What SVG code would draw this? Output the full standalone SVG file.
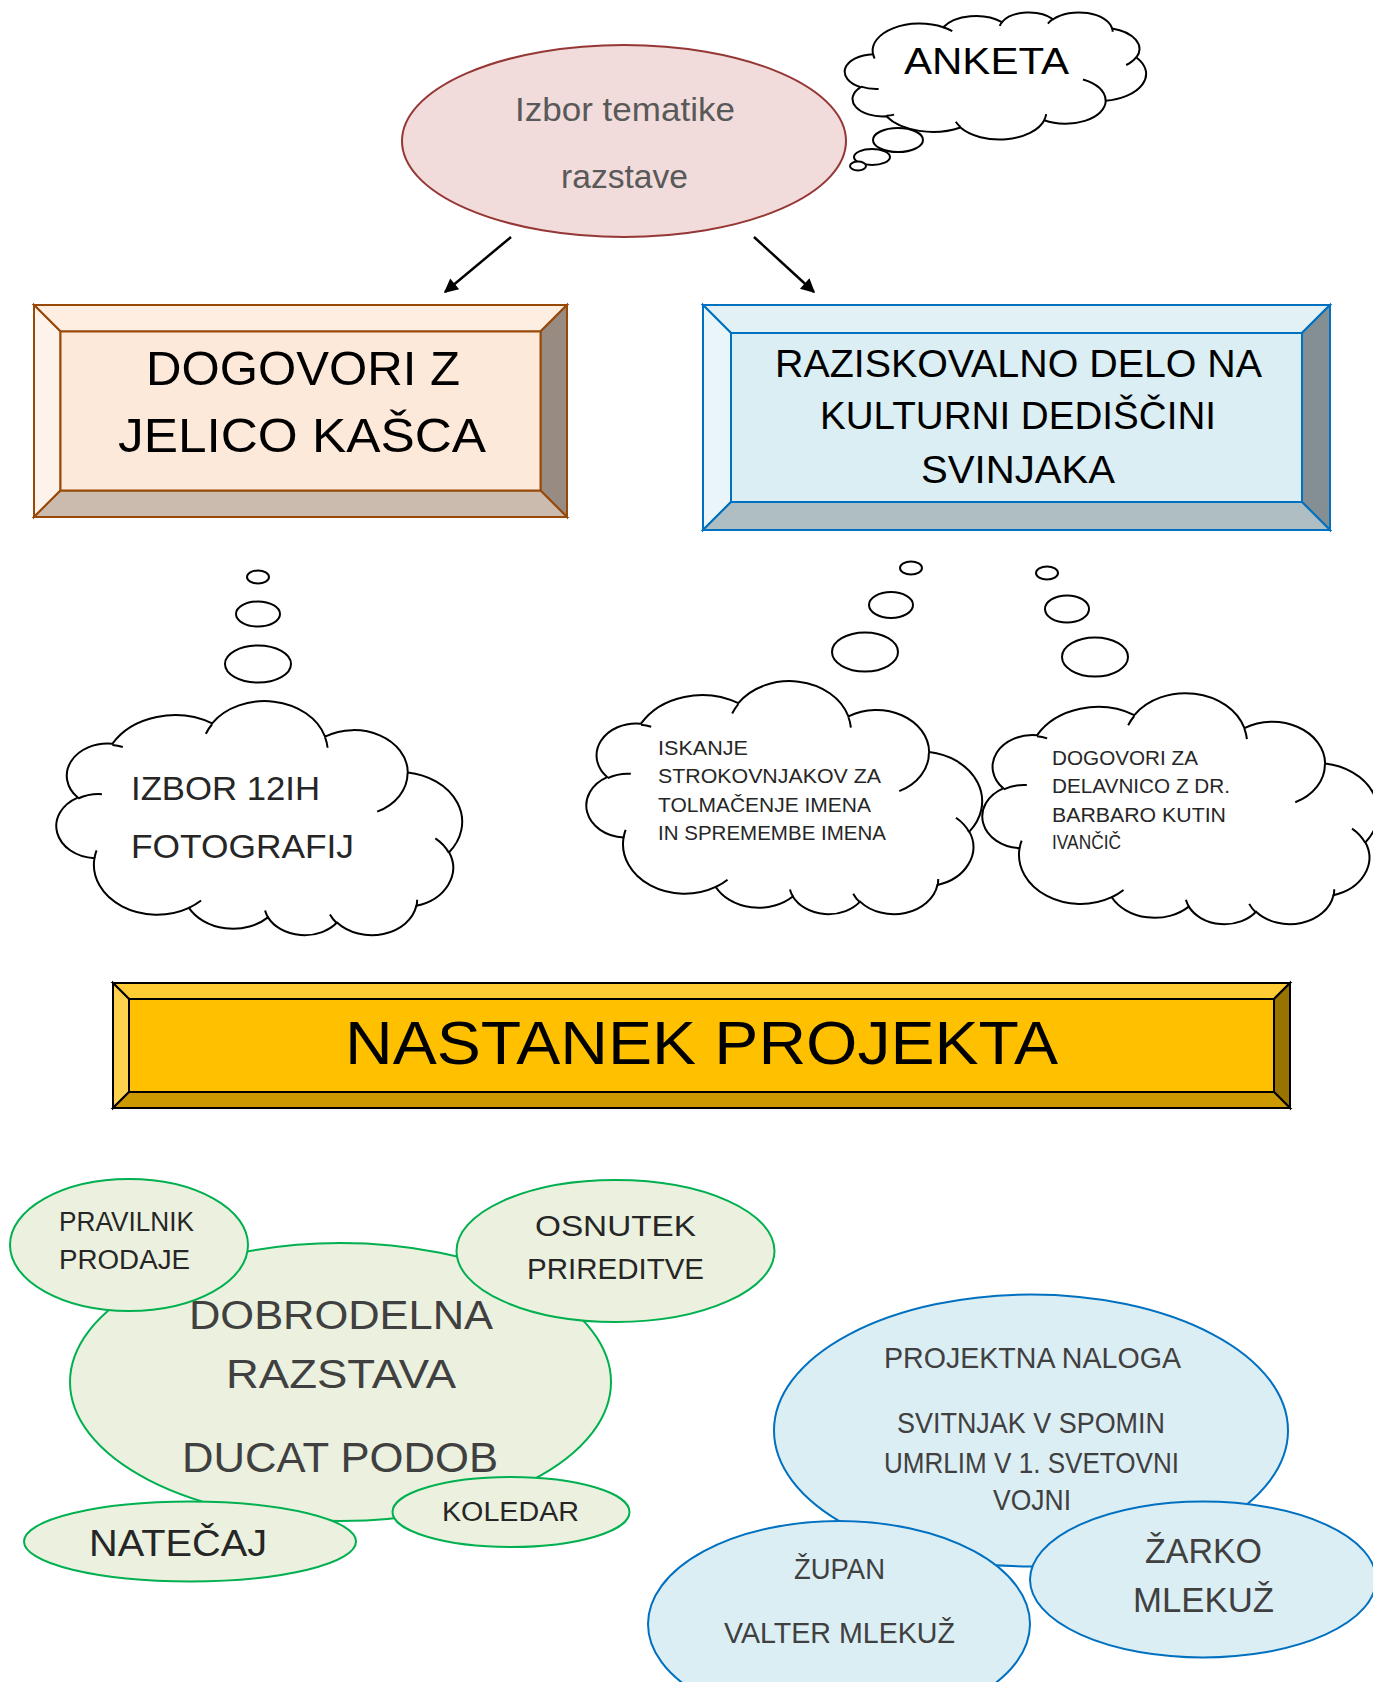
<svg xmlns="http://www.w3.org/2000/svg" xmlns:xlink="http://www.w3.org/1999/xlink" width="1373" height="1682" viewBox="0 0 1373 1682">
<style>
text { font-family: "Liberation Sans", Arial, sans-serif; }
.cloud { fill: #ffffff; stroke: #000000; stroke-width: 2; }
.cin { fill: none; stroke: #000000; stroke-width: 2; }
.bub { fill: #ffffff; stroke: #000000; stroke-width: 2; }
.green { fill: #EBF1DE; stroke: #00B050; stroke-width: 2; }
.blue { fill: #DBEEF4; stroke: #0070C0; stroke-width: 2; }
.conn { stroke: #000000; stroke-width: 2.5; fill: none; marker-end: url(#ah); }
.t-dark { fill: #262626; }
.t-gray { fill: #404040; }
.t-blk { fill: #000000; }
</style>
<defs>
<marker id="ah" viewBox="0 0 10 10" refX="9" refY="5" markerWidth="17" markerHeight="14" markerUnits="userSpaceOnUse" orient="auto">
<path d="M0,0 L10,5 L0,10 z" fill="#000"/>
</marker>
<path id="cloudBody" vector-effect="non-scaling-stroke" d="M3900,14370 A6753,9190 0 0 1 14005,5202 A5333,7267 0 0 1 22456,3433 A4365,5945 0 0 1 29833,2481 A4857,6595 0 0 1 38318,5576 A5333,7273 0 0 1 41818,15460 A6775,9220 0 0 1 37404,30203 A5785,7867 0 0 1 28556,36813 A6752,9215 0 0 1 16481,39267 A7720,10543 0 0 1 5807,35473 A4360,5918 0 0 1 2116,25551 A4345,5945 0 0 1 3900,14370 Z"/>
<path id="cloudInner" vector-effect="non-scaling-stroke" d="M4693,26177 A4345,5945 0 0 1 2160,25380 M6928,34899 A4360,5918 0 0 1 5820,35281 M16478,39090 A6752,9215 0 0 1 15809,37347 M28827,34751 A6752,9215 0 0 1 28560,36660 M34129,22954 A5785,7867 0 0 1 37381,30090 M41798,15354 A5333,7273 0 0 1 40350,18030 M38324,5426 A4857,6595 0 0 1 38400,6690 M29078,3952 A4857,6595 0 0 1 29820,2340 M22141,4720 A4365,5945 0 0 1 22500,3331 M14000,5192 A6753,9190 0 0 1 15301,6541 M4127,15789 A6753,9190 0 0 1 3900,14370"/>
</defs>
<rect x="0" y="0" width="1373" height="1682" fill="#ffffff"/>

<g id="izbor-tematike">
<ellipse cx="624" cy="141" rx="222" ry="96" fill="#F2DCDB" stroke="#953735" stroke-width="2"/>
<text x="515" y="121" font-size="34" textLength="220" lengthAdjust="spacingAndGlyphs" fill="#595959">Izbor tematike</text>
<text x="561" y="188" font-size="34" textLength="127" lengthAdjust="spacingAndGlyphs" fill="#595959">razstave</text>
</g>

<g id="anketa">
<g transform="translate(846,12) scale(0.006944,0.00294)">
<use xlink:href="#cloudBody" class="cloud"/>
<use xlink:href="#cloudInner" class="cin"/>
</g>
<ellipse class="bub" cx="898" cy="140" rx="25" ry="12"/>
<ellipse class="bub" cx="872" cy="157" rx="18" ry="8"/>
<ellipse class="bub" cx="858" cy="166" rx="8" ry="4.5"/>
<text x="904" y="74" font-size="36" textLength="165" lengthAdjust="spacingAndGlyphs" class="t-blk">ANKETA</text>
</g>

<g id="dogovori-z-jelico">
<polygon points="34,305 567,305 540.5,331.5 60.5,331.5" fill="#FEEDE1" stroke="#984807" stroke-width="2"/>
<polygon points="34,305 60.5,331.5 60.5,490.5 34,517" fill="#FEF3EB" stroke="#984807" stroke-width="2"/>
<polygon points="567,305 567,517 540.5,490.5 540.5,331.5" fill="#988B82" stroke="#984807" stroke-width="2"/>
<polygon points="34,517 60.5,490.5 540.5,490.5 567,517" fill="#CBBAAE" stroke="#984807" stroke-width="2"/>
<rect x="60.5" y="331.5" width="480" height="159" fill="#FDE9D9" stroke="#984807" stroke-width="2"/>
<text x="146" y="385" font-size="49" textLength="314" lengthAdjust="spacingAndGlyphs" class="t-blk">DOGOVORI Z</text>
<text x="118" y="452" font-size="49" textLength="368" lengthAdjust="spacingAndGlyphs" class="t-blk">JELICO KAŠCA</text>
</g>

<g id="raziskovalno-delo">
<polygon points="703,305 1330,305 1302,333 731,333" fill="#E1F1F5" stroke="#0070C0" stroke-width="2"/>
<polygon points="703,305 731,333 731,502 703,530" fill="#E9F5F8" stroke="#0070C0" stroke-width="2"/>
<polygon points="1330,305 1330,530 1302,502 1302,333" fill="#838F92" stroke="#0070C0" stroke-width="2"/>
<polygon points="703,530 731,502 1302,502 1330,530" fill="#AEBEC2" stroke="#0070C0" stroke-width="2"/>
<rect x="731" y="333" width="571" height="169" fill="#DAEEF3" stroke="#0070C0" stroke-width="2"/>
<text x="775" y="377" font-size="38" textLength="487" lengthAdjust="spacingAndGlyphs" class="t-blk">RAZISKOVALNO DELO NA</text>
<text x="820" y="429" font-size="38" textLength="396" lengthAdjust="spacingAndGlyphs" class="t-blk">KULTURNI DEDIŠČINI</text>
<text x="921" y="483" font-size="38" textLength="194" lengthAdjust="spacingAndGlyphs" class="t-blk">SVINJAKA</text>
</g>

<g id="izbor-fotografij">
<ellipse class="bub" cx="258" cy="577" rx="11" ry="6.5"/>
<ellipse class="bub" cx="258" cy="614" rx="22" ry="12.5"/>
<ellipse class="bub" cx="258" cy="664" rx="33" ry="18.5"/>
<g transform="translate(58,936) scale(0.009352,-0.005417)">
<use xlink:href="#cloudBody" class="cloud"/>
<use xlink:href="#cloudInner" class="cin"/>
</g>
<text x="131" y="800" font-size="33" textLength="189" lengthAdjust="spacingAndGlyphs" class="t-dark">IZBOR 12IH</text>
<text x="131" y="858" font-size="33" textLength="223" lengthAdjust="spacingAndGlyphs" class="t-dark">FOTOGRAFIJ</text>
</g>

<g id="iskanje-strokovnjakov">
<ellipse class="bub" cx="911" cy="568" rx="11" ry="6.5"/>
<ellipse class="bub" cx="891" cy="605" rx="22" ry="13"/>
<ellipse class="bub" cx="865" cy="652" rx="33" ry="19.5"/>
<g transform="translate(588,915) scale(0.00912,-0.005394)">
<use xlink:href="#cloudBody" class="cloud"/>
<use xlink:href="#cloudInner" class="cin"/>
</g>
<text x="658" y="755" font-size="20" textLength="90" lengthAdjust="spacingAndGlyphs" class="t-dark">ISKANJE</text>
<text x="658" y="783" font-size="20" textLength="223" lengthAdjust="spacingAndGlyphs" class="t-dark">STROKOVNJAKOV ZA</text>
<text x="658" y="812" font-size="20" textLength="213" lengthAdjust="spacingAndGlyphs" class="t-dark">TOLMAČENJE IMENA</text>
<text x="658" y="840" font-size="20" textLength="228" lengthAdjust="spacingAndGlyphs" class="t-dark">IN SPREMEMBE IMENA</text>
</g>

<g id="dogovori-za-delavnico">
<ellipse class="bub" cx="1047" cy="573" rx="11" ry="6.5"/>
<ellipse class="bub" cx="1067" cy="609" rx="22" ry="13.5"/>
<ellipse class="bub" cx="1095" cy="657" rx="33" ry="19.5"/>
<g transform="translate(984,925) scale(0.00912,-0.005347)">
<use xlink:href="#cloudBody" class="cloud"/>
<use xlink:href="#cloudInner" class="cin"/>
</g>
<text x="1052" y="765" font-size="20" textLength="146" lengthAdjust="spacingAndGlyphs" class="t-dark">DOGOVORI ZA</text>
<text x="1052" y="793" font-size="20" textLength="178" lengthAdjust="spacingAndGlyphs" class="t-dark">DELAVNICO Z DR.</text>
<text x="1052" y="822" font-size="20" textLength="174" lengthAdjust="spacingAndGlyphs" class="t-dark">BARBARO KUTIN</text>
<text x="1052" y="849" font-size="20" textLength="69" lengthAdjust="spacingAndGlyphs" class="t-dark">IVANČIČ</text>
</g>

<g id="nastanek-projekta">
<polygon points="113,983 1290,983 1274,999 129,999" fill="#FFCD33" stroke="#000" stroke-width="2"/>
<polygon points="113,983 129,999 129,1092 113,1108" fill="#FFD24D" stroke="#000" stroke-width="2"/>
<polygon points="1290,983 1290,1108 1274,1092 1274,999" fill="#997300" stroke="#000" stroke-width="2"/>
<polygon points="113,1108 129,1092 1274,1092 1290,1108" fill="#CC9A00" stroke="#000" stroke-width="2"/>
<rect x="129" y="999" width="1145" height="93" fill="#FFC000" stroke="#000" stroke-width="2"/>
<text x="345" y="1064" font-size="62" textLength="713" lengthAdjust="spacingAndGlyphs" class="t-blk">NASTANEK PROJEKTA</text>
</g>

<g id="dobrodelna-razstava">
<ellipse class="green" cx="340.5" cy="1382" rx="270.5" ry="139"/>
<text x="189" y="1329" font-size="40" textLength="304" lengthAdjust="spacingAndGlyphs" class="t-gray">DOBRODELNA</text>
<text x="226" y="1388" font-size="40" textLength="230" lengthAdjust="spacingAndGlyphs" class="t-gray">RAZSTAVA</text>
<text x="182" y="1472" font-size="43" textLength="316" lengthAdjust="spacingAndGlyphs" class="t-gray">DUCAT PODOB</text>
</g>

<g id="pravilnik-prodaje">
<ellipse class="green" cx="129" cy="1245" rx="119" ry="66"/>
<text x="59" y="1231" font-size="27" textLength="135" lengthAdjust="spacingAndGlyphs" class="t-dark">PRAVILNIK</text>
<text x="59" y="1269" font-size="27" textLength="131" lengthAdjust="spacingAndGlyphs" class="t-dark">PRODAJE</text>
</g>

<g id="osnutek-prireditve">
<ellipse class="green" cx="615.5" cy="1251" rx="159" ry="71"/>
<text x="535" y="1236" font-size="30" textLength="161" lengthAdjust="spacingAndGlyphs" class="t-dark">OSNUTEK</text>
<text x="527" y="1279" font-size="30" textLength="177" lengthAdjust="spacingAndGlyphs" class="t-dark">PRIREDITVE</text>
</g>

<g id="koledar">
<ellipse class="green" cx="511" cy="1512" rx="118.5" ry="35"/>
<text x="442" y="1521" font-size="27" textLength="137" lengthAdjust="spacingAndGlyphs" class="t-dark">KOLEDAR</text>
</g>

<g id="natecaj">
<ellipse class="green" cx="190" cy="1541.5" rx="166" ry="40"/>
<text x="89" y="1556" font-size="36" textLength="178" lengthAdjust="spacingAndGlyphs" class="t-dark">NATEČAJ</text>
</g>

<g id="projektna-naloga">
<ellipse class="blue" cx="1031" cy="1430.5" rx="257" ry="136"/>
<text x="884" y="1368" font-size="29" textLength="297" lengthAdjust="spacingAndGlyphs" class="t-gray">PROJEKTNA NALOGA</text>
<text x="897" y="1433" font-size="29" textLength="268" lengthAdjust="spacingAndGlyphs" class="t-gray">SVITNJAK V SPOMIN</text>
<text x="884" y="1473" font-size="29" textLength="295" lengthAdjust="spacingAndGlyphs" class="t-gray">UMRLIM V 1. SVETOVNI</text>
<text x="993" y="1510" font-size="29" textLength="78" lengthAdjust="spacingAndGlyphs" class="t-gray">VOJNI</text>
</g>

<g id="zupan">
<ellipse class="blue" cx="839" cy="1624" rx="191" ry="103"/>
<text x="794" y="1579" font-size="29" textLength="91" lengthAdjust="spacingAndGlyphs" class="t-gray">ŽUPAN</text>
<text x="724" y="1643" font-size="29" textLength="231" lengthAdjust="spacingAndGlyphs" class="t-gray">VALTER MLEKUŽ</text>
</g>

<g id="zarko-mlekuz">
<ellipse class="blue" cx="1203" cy="1579.5" rx="173" ry="78"/>
<text x="1145" y="1563" font-size="35" textLength="117" lengthAdjust="spacingAndGlyphs" class="t-gray">ŽARKO</text>
<text x="1133" y="1612" font-size="35" textLength="141" lengthAdjust="spacingAndGlyphs" class="t-gray">MLEKUŽ</text>
</g>

<g id="connectors">
<line class="conn" x1="511" y1="237" x2="445" y2="292"/>
<line class="conn" x1="754" y1="237" x2="814" y2="292"/>
</g>
</svg>
